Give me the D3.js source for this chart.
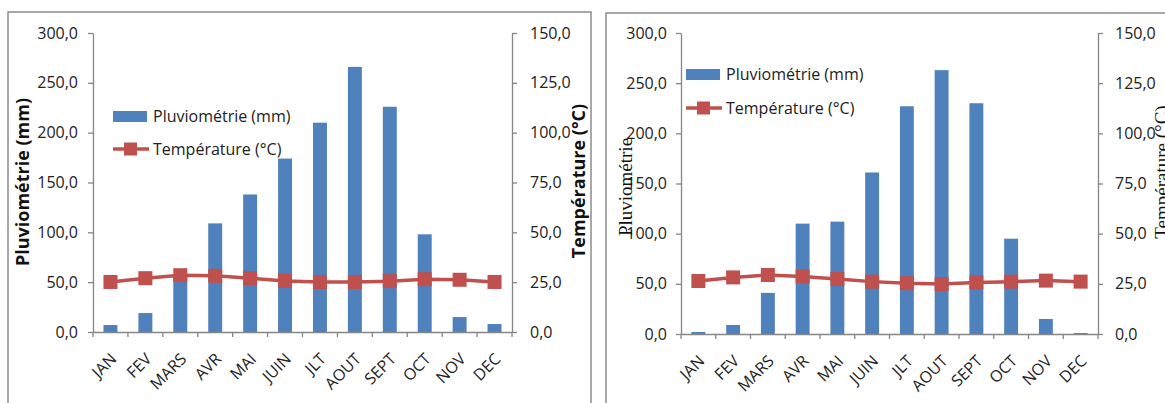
<!DOCTYPE html>
<html>
<head>
<meta charset="utf-8">
<script src="https://cdn.jsdelivr.net/npm/d3@7"></script>
<style>
  body { margin: 0; background: #fff; }
  svg { display: block; }
  .tick text { font-family: "Open Sans", sans-serif; font-size: 16px; fill: #222; }
</style>
</head>
<body>
<div id="chart"></div>
<script>
// months and values
var months = ["JAN", "FEV", "MARS", "AVR", "MAI", "JUIN", "JLT", "AOUT", "SEPT", "OCT", "NOV", "DEC"];
var rainLeft = [7, 19, 56, 109, 138, 174, 210, 266, 226, 98, 15, 8];
var tempLeft = [25.1, 27.0, 28.5, 28.2, 27.0, 25.6, 25.1, 25.1, 25.5, 26.5, 26.2, 25.1];
var rainRight = [2, 9, 41, 110, 112, 161, 227, 263, 230, 95, 15, 1];
var tempRight = [26.4, 28.2, 29.4, 28.6, 27.4, 26.1, 25.3, 24.9, 25.7, 26.1, 26.6, 26.1];
var rainTicks = [0, 50, 100, 150, 200, 250, 300];
var tempTicks = [0, 25, 50, 75, 100, 125, 150];
var rainName = "Pluviométrie (mm)";
var tempName = "Température (°C)";

var blue = "#4f81bd", red = "#c0504d", axisColor = "#868686";
var fmt = function (d) { return d3.format(".1f")(d).replace(".", ","); };

var svg = d3.select("#chart").append("svg")
    .attr("width", 1165)
    .attr("height", 403);

//Draws one climate diagram inside its frame
function drawChart(c) {

    svg.append("rect")
        .attr("x", c.frame[0]).attr("y", c.frame[1])
        .attr("width", c.frame[2]).attr("height", c.frame[3])
        .attr("fill", "none").attr("stroke", "#8c8c8c").attr("stroke-width", 1.5);

    var x = d3.scaleBand().domain(months).range([c.left, c.right]);
    var yRain = d3.scaleLinear().domain([0, 300]).range([c.bottom, c.top]);
    var yTemp = d3.scaleLinear().domain([0, 150]).range([c.bottom, c.top]);

    var g = svg.append("g");

    //Bars
    g.selectAll(".bar")
        .data(c.rain)
        .enter()
        .append("rect")
        .attr("class", "bar")
        .attr("x", function (d, i) { return x(months[i]) + x.bandwidth() * 0.3; })
        .attr("width", x.bandwidth() * 0.4)
        .attr("y", function (d) { return yRain(d); })
        .attr("height", function (d) { return c.bottom - yRain(d); })
        .attr("fill", blue);

    //Axes
    var yl = g.append("g")
        .attr("transform", "translate(" + c.left + ",0)")
        .call(d3.axisLeft(yRain).tickValues(rainTicks).tickFormat(fmt).tickSize(5).tickSizeOuter(0).tickPadding(c.padL));
    var yr = g.append("g")
        .attr("transform", "translate(" + c.right + ",0)")
        .call(d3.axisRight(yTemp).tickValues(tempTicks).tickFormat(fmt).tickSize(5).tickSizeOuter(0).tickPadding(c.padR));

    var xa = g.append("g")
        .attr("transform", "translate(0," + c.bottom + ")")
        .call(d3.axisBottom(x).tickSize(0).tickSizeOuter(0));
    xa.selectAll(".tick text")
        .attr("text-anchor", "end")
        .attr("transform", "translate(1,22) rotate(-45)")
        .attr("dy", "0.35em");
    //band boundary ticks
    xa.selectAll(".sep")
        .data(months.concat(["end"]))
        .enter()
        .append("line")
        .attr("x1", function (d, i) { return c.left + i * x.step(); })
        .attr("x2", function (d, i) { return c.left + i * x.step(); })
        .attr("y1", 0).attr("y2", 5)
        .attr("stroke", axisColor);

    [yl, yr, xa].forEach(function (a) {
        a.selectAll("path, line").attr("stroke", axisColor).attr("stroke-width", 1.3);
    });

    //Temperature line
    var line = d3.line()
        .x(function (d, i) { return x(months[i]) + x.bandwidth() / 2; })
        .y(function (d) { return yTemp(d); });

    g.append("path")
        .datum(c.temp)
        .attr("d", line)
        .attr("fill", "none")
        .attr("stroke", red)
        .attr("stroke-width", 3.5);

    g.selectAll(".mark")
        .data(c.temp)
        .enter()
        .append("rect")
        .attr("class", "mark")
        .attr("x", function (d, i) { return x(months[i]) + x.bandwidth() / 2 - 7; })
        .attr("y", function (d) { return yTemp(d) - 7; })
        .attr("width", 14).attr("height", 14)
        .attr("fill", red);

    //Legend
    var lg = g.append("g").attr("transform", "translate(" + c.legend[0] + "," + c.legend[1] + ")");
    lg.append("rect").attr("x", 0).attr("y", -5).attr("width", 34).attr("height", 11).attr("fill", blue);
    lg.append("text").attr("x", 40).attr("y", 0).attr("dy", "0.35em")
        .style("font-family", "Open Sans, sans-serif").style("font-size", "16px").attr("fill", "#222")
        .text(rainName);
    lg.append("line").attr("x1", 0).attr("x2", 36).attr("y1", c.legendGap).attr("y2", c.legendGap)
        .attr("stroke", red).attr("stroke-width", 3.5);
    lg.append("rect").attr("x", 11).attr("y", c.legendGap - 6.5).attr("width", 13).attr("height", 13).attr("fill", red);
    lg.append("text").attr("x", 40).attr("y", c.legendGap).attr("dy", "0.35em")
        .style("font-family", "Open Sans, sans-serif").style("font-size", "16px").attr("fill", "#222")
        .text(tempName);

    //Axis titles
    g.append("text")
        .attr("transform", "translate(" + c.titleL[0] + "," + c.titleL[1] + ") rotate(-90)")
        .attr("text-anchor", "middle").attr("dy", "0.35em")
        .style("font-family", c.titleFont).style("font-size", c.titleSize).style("font-weight", c.titleWeight)
        .attr("fill", "#111")
        .text(c.titleTextL);
    g.append("text")
        .attr("transform", "translate(" + c.titleR[0] + "," + c.titleR[1] + ") rotate(-90)")
        .attr("text-anchor", "middle").attr("dy", "0.35em")
        .style("font-family", c.titleFont).style("font-size", c.titleSize).style("font-weight", c.titleWeight)
        .attr("fill", "#111")
        .text(tempName);
}

drawChart({
    frame: [8, 12, 583, 420],
    left: 93, right: 512, top: 33, bottom: 332,
    rain: rainLeft, temp: tempLeft,
    padL: 10, padR: 13,
    legend: [113, 116], legendGap: 33,
    titleL: [23, 182], titleR: [579, 181], titleTextL: rainName,
    titleFont: "Open Sans, sans-serif", titleSize: "18px", titleWeight: "bold"
});

drawChart({
    frame: [606, 13, 600, 420],
    left: 681, right: 1098, top: 33, bottom: 334,
    rain: rainRight, temp: tempRight,
    padL: 9, padR: 12,
    legend: [686, 74], legendGap: 34,
    titleL: [625, 187], titleR: [1161, 172], titleTextL: "Pluviométrie",
    titleFont: "Liberation Serif, serif", titleSize: "19px", titleWeight: "normal"
});
</script>
</body>
</html>
